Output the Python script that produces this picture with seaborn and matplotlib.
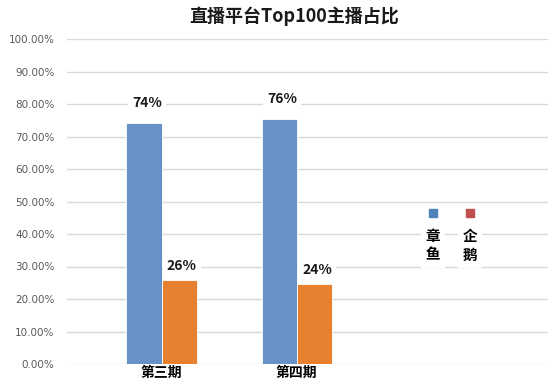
import matplotlib
matplotlib.use("Agg")
import matplotlib.pyplot as plt
import seaborn as sns
import pandas as pd

periods = ["第三期", "第四期"]
platforms = ["章鱼", "企鹅"]
zhangyu = [0.742, 0.755]
qie = [0.258, 0.245]
yticks = [i / 10 for i in range(11)]
title = "直播平台Top100主播占比"

df = pd.DataFrame({
    "period": periods * 2,
    "platform": [platforms[0]] * 2 + [platforms[1]] * 2,
    "share": zhangyu + qie,
})

sns.set_theme(style="white")
plt.rcParams["font.family"] = ["Noto Sans CJK SC", "DejaVu Sans"]

bar_colors = ["#6891c8", "#e8812f"]
legend_colors = ["#4f81bd", "#c0504d"]

fig = plt.figure(figsize=(5.48, 3.84), dpi=100)
ax = fig.add_axes([67 / 548, 20 / 384, 481 / 548, 325 / 384])

sns.barplot(data=df, x="period", y="share", hue="platform", palette=bar_colors,
            saturation=1, width=0.52, ax=ax, edgecolor="white", linewidth=0.6,
            legend=False, zorder=3)

ax.set_ylim(0, 1)
ax.set_xlim(-0.70, 2.86)
ax.set_yticks(yticks)
ax.set_yticklabels([f"{v * 100:.2f}%" for v in yticks], fontsize=7.5,
                   color="#595959", family=["DejaVu Sans"])
ax.yaxis.grid(True, color="#d9d9d9", linewidth=1, zorder=0)
ax.set_axisbelow(True)
for s in ax.spines.values():
    s.set_visible(False)
ax.tick_params(axis="y", length=0, pad=9)
ax.tick_params(axis="x", length=0, pad=1.5)
ax.set_xticks(range(len(periods)))
ax.set_xticklabels(periods, fontsize=10, fontweight="bold", color="black")
ax.set_xlabel("")
ax.set_ylabel("")

offsets = [9, 5]
for container, off in zip(ax.containers, offsets):
    for bar in container:
        h = bar.get_height()
        ax.annotate(f"{h * 100:.0f}%", (bar.get_x() + bar.get_width() / 2 + 0.02, h),
                    xytext=(0, off), textcoords="offset points", ha="center",
                    va="bottom", fontsize=10, fontweight="bold", color="#1a1a1a",
                    bbox=dict(boxstyle="square,pad=0.3", fc="white", ec="none"),
                    zorder=5)

# legend: marker above vertically-written label
leg_x = [0.761, 0.838]
for x, name, c in zip(leg_x, platforms, legend_colors):
    ax.scatter([x], [0.465], marker="s", s=30, color=c, transform=ax.transAxes,
               zorder=6, clip_on=False)
    ax.text(x, 0.365, "\n".join(name), transform=ax.transAxes, ha="center",
            va="center", fontsize=10.5, fontweight="bold", linespacing=1.2,
            color="black",
            bbox=dict(boxstyle="square,pad=0.35", fc="white", ec="none"),
            zorder=6)

fig.text(0.537, 0.957, title, ha="center", va="center", fontsize=13,
         fontweight="bold", color="#1a1a1a")

fig.savefig("out.png", dpi=100)
